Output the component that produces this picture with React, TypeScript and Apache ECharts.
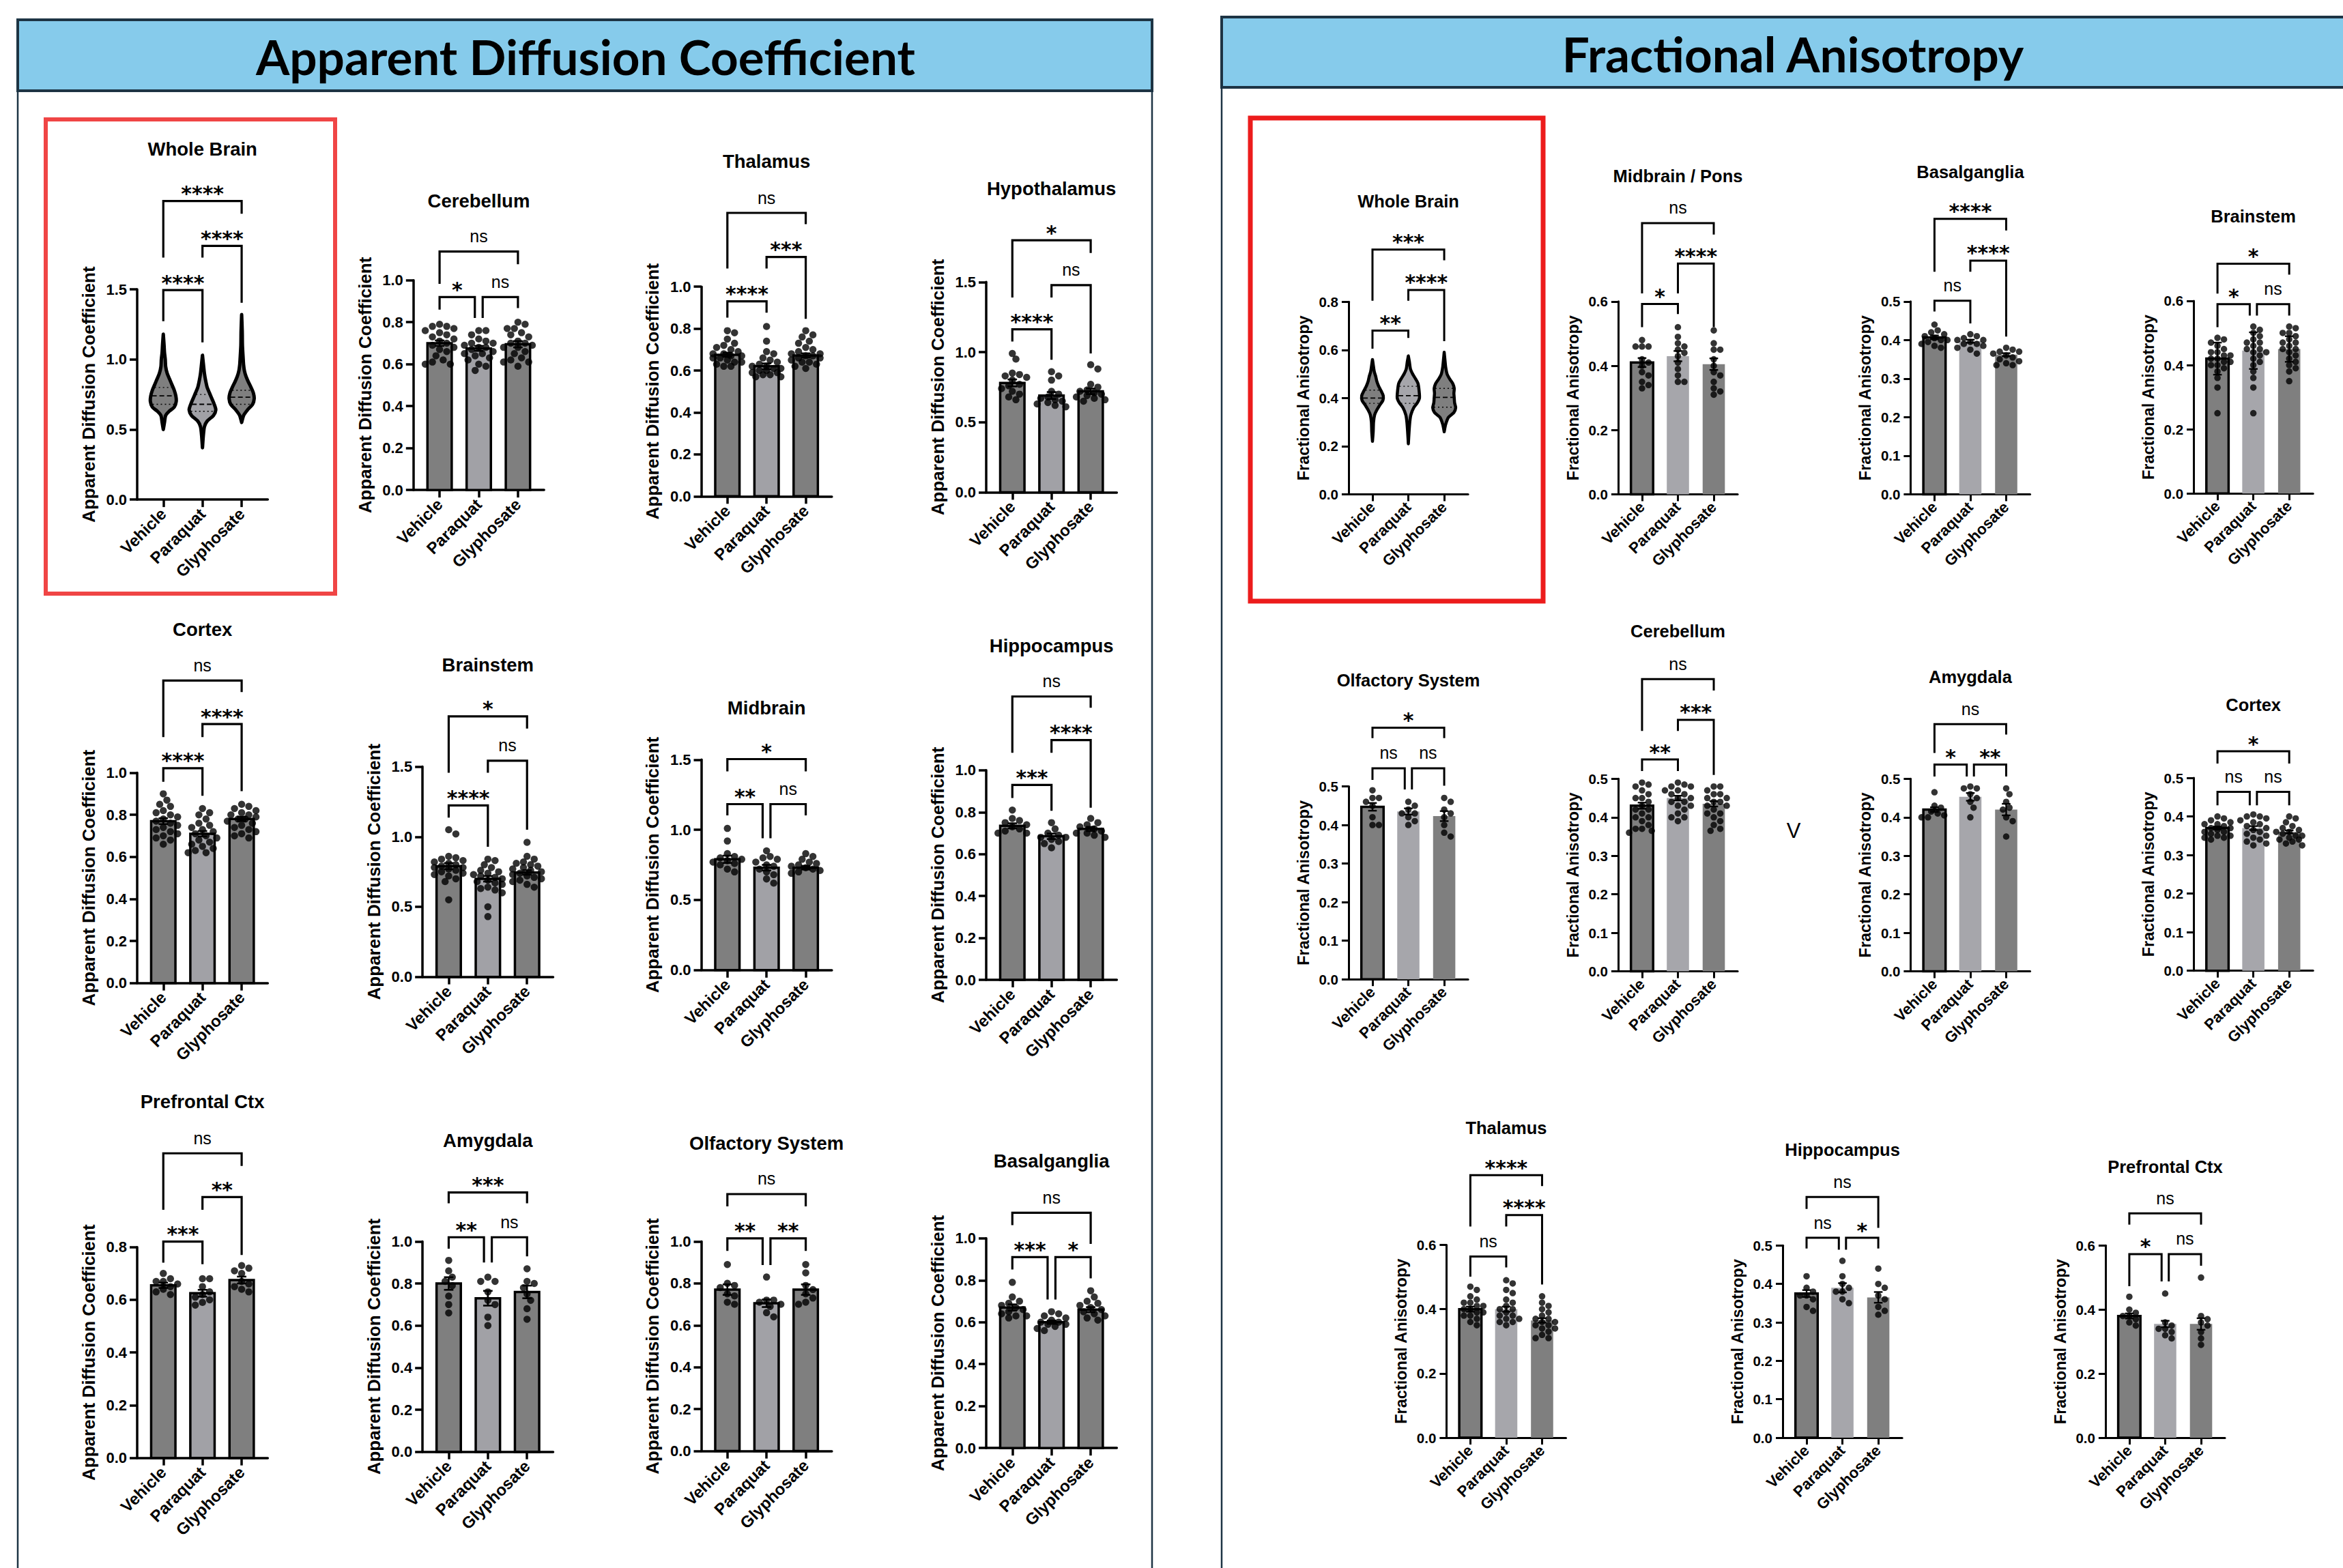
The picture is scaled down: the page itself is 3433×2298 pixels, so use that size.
import React, { useEffect, useRef } from "react";
import * as echarts from "echarts";

// ---------------- categories / labels ----------------
const GROUPS = ["Vehicle", "Paraquat", "Glyphosate"];
const ADC_HEADER = "Apparent Diffusion Coefficient";
const FA_HEADER = "Fractional Anisotropy";
const ADC_YNAME = "Apparent Diffusion Coefficient";
const FA_YNAME = "Fractional Anisotropy";

// ---------------- ADC data ----------------
// Whole brain violins: [value, half-width in category units]
const ADC_WB_VIOLIN_VEH = [[0.5, 0], [0.55, 0.03], [0.6, 0.06], [0.63, 0.15], [0.66, 0.28], [0.7, 0.33], [0.74, 0.32], [0.78, 0.28], [0.82, 0.22], [0.86, 0.16], [0.9, 0.1], [0.95, 0.06], [1.0, 0.05], [1.05, 0.03], [1.1, 0.02], [1.18, 0]];
const ADC_WB_VIOLIN_PQ = [[0.37, 0], [0.45, 0.02], [0.52, 0.05], [0.56, 0.12], [0.6, 0.28], [0.64, 0.34], [0.68, 0.3], [0.72, 0.24], [0.76, 0.18], [0.8, 0.12], [0.85, 0.08], [0.9, 0.05], [0.95, 0.03], [1.03, 0]];
const ADC_WB_VIOLIN_GLY = [[0.55, 0], [0.6, 0.05], [0.64, 0.15], [0.68, 0.28], [0.72, 0.32], [0.76, 0.3], [0.8, 0.24], [0.84, 0.17], [0.88, 0.11], [0.92, 0.07], [0.96, 0.05], [1.0, 0.04], [1.1, 0.02], [1.2, 0.015], [1.32, 0]];
const ADC_WB_QUART = [[0.68, 0.74, 0.8], [0.63, 0.68, 0.75], [0.68, 0.73, 0.78]];
const ADC_WB_BRK = [[0, 1, 1.495, 1.273, 1.122, "****"], [1, 2, 1.81, 1.727, 1.404, "****"], [0, 2, 2.13, 1.727, 2.04, "****"]];

const ADC_CB_MEAN = [0.7, 0.675, 0.695];
const ADC_CB_ERR = [0.013, 0.012, 0.015];
const ADC_CB_VEH = [0.79, 0.78, 0.78, 0.77, 0.76, 0.75, 0.74, 0.73, 0.72, 0.71, 0.7, 0.69, 0.68, 0.67, 0.66, 0.64, 0.62, 0.61, 0.6, 0.6];
const ADC_CB_PQ = [0.76, 0.76, 0.74, 0.72, 0.71, 0.7, 0.7, 0.69, 0.68, 0.68, 0.67, 0.66, 0.65, 0.65, 0.64, 0.63, 0.62, 0.6, 0.59, 0.57];
const ADC_CB_GLY = [0.8, 0.79, 0.77, 0.77, 0.75, 0.74, 0.73, 0.71, 0.7, 0.7, 0.69, 0.68, 0.68, 0.66, 0.65, 0.63, 0.62, 0.61, 0.61, 0.59];
const ADC_CB_BRK = [[0, 0.9, 0.92, 0.86, 0.82, "*"], [1.1, 2, 0.92, 0.82, 0.867, "ns"], [0, 2, 1.137, 0.983, 1.076, "ns"]];

const ADC_TH_MEAN = [0.675, 0.62, 0.672];
const ADC_TH_ERR = [0.01, 0.014, 0.01];
const ADC_TH_VEH = [0.79, 0.78, 0.75, 0.73, 0.72, 0.71, 0.7, 0.69, 0.68, 0.68, 0.67, 0.67, 0.66, 0.66, 0.65, 0.64, 0.64, 0.63, 0.62, 0.62];
const ADC_TH_PQ = [0.81, 0.74, 0.69, 0.68, 0.66, 0.65, 0.64, 0.63, 0.62, 0.62, 0.61, 0.61, 0.6, 0.6, 0.59, 0.59, 0.58, 0.58, 0.57, 0.57];
const ADC_TH_GLY = [0.79, 0.77, 0.76, 0.74, 0.73, 0.71, 0.7, 0.69, 0.68, 0.68, 0.67, 0.67, 0.66, 0.66, 0.65, 0.64, 0.64, 0.63, 0.62, 0.61];
const ADC_TH_BRK = [[0, 1, 0.93, 0.852, 0.876, "****"], [1, 2, 1.142, 1.087, 0.847, "***"], [0, 2, 1.352, 1.087, 1.298, "ns"]];

const ADC_HY_MEAN = [0.78, 0.69, 0.72];
const ADC_HY_ERR = [0.025, 0.025, 0.02];
const ADC_HY_VEH = [0.99, 0.95, 0.85, 0.84, 0.83, 0.82, 0.8, 0.77, 0.76, 0.74, 0.72, 0.7, 0.68, 0.66];
const ADC_HY_PQ = [0.86, 0.83, 0.8, 0.72, 0.7, 0.68, 0.67, 0.66, 0.65, 0.64, 0.63, 0.62, 0.61];
const ADC_HY_GLY = [0.91, 0.88, 0.77, 0.75, 0.73, 0.72, 0.71, 0.7, 0.69, 0.68, 0.67, 0.66, 0.65];
const ADC_HY_BRK = [[0, 1, 1.163, 1.076, 0.946, "****"], [1, 2, 1.478, 1.39, 0.99, "ns"], [0, 2, 1.798, 1.39, 1.707, "*"]];

const ADC_CX_MEAN = [0.77, 0.71, 0.78];
const ADC_CX_ERR = [0.014, 0.013, 0.01];
const ADC_CX_VEH = [0.9, 0.87, 0.85, 0.84, 0.82, 0.81, 0.8, 0.79, 0.78, 0.77, 0.76, 0.75, 0.74, 0.73, 0.72, 0.71, 0.7, 0.69, 0.68, 0.66];
const ADC_CX_PQ = [0.83, 0.81, 0.8, 0.78, 0.76, 0.75, 0.74, 0.73, 0.72, 0.71, 0.7, 0.69, 0.68, 0.67, 0.66, 0.65, 0.64, 0.63, 0.62, 0.62];
const ADC_CX_GLY = [0.85, 0.84, 0.83, 0.82, 0.81, 0.8, 0.8, 0.79, 0.78, 0.78, 0.77, 0.76, 0.75, 0.74, 0.73, 0.72, 0.71, 0.7, 0.69];
const ADC_CX_BRK = [[0, 1, 1.022, 0.957, 0.891, "****"], [1, 2, 1.232, 1.17, 0.913, "****"], [0, 2, 1.439, 1.17, 1.384, "ns"]];

const ADC_BS_MEAN = [0.79, 0.7, 0.745];
const ADC_BS_ERR = [0.022, 0.02, 0.016];
const ADC_BS_VEH = [1.05, 1.02, 0.86, 0.85, 0.84, 0.83, 0.82, 0.81, 0.8, 0.79, 0.78, 0.78, 0.77, 0.76, 0.75, 0.74, 0.73, 0.72, 0.7, 0.68, 0.55];
const ADC_BS_PQ = [0.84, 0.83, 0.8, 0.78, 0.76, 0.75, 0.74, 0.73, 0.72, 0.71, 0.7, 0.69, 0.68, 0.67, 0.66, 0.64, 0.63, 0.62, 0.6, 0.5, 0.43];
const ADC_BS_GLY = [0.96, 0.86, 0.84, 0.82, 0.81, 0.8, 0.79, 0.78, 0.77, 0.76, 0.75, 0.74, 0.73, 0.72, 0.71, 0.7, 0.69, 0.68, 0.66, 0.64];
const ADC_BS_BRK = [[0, 1, 1.224, 1.137, 0.928, "****"], [1, 2, 1.543, 1.457, 1.05, "ns"], [0, 2, 1.859, 1.457, 1.772, "*"]];

const ADC_MB_MEAN = [0.79, 0.73, 0.73];
const ADC_MB_ERR = [0.026, 0.02, 0.013];
const ADC_MB_VEH = [1.01, 0.92, 0.83, 0.81, 0.8, 0.79, 0.78, 0.77, 0.76, 0.75, 0.72, 0.7];
const ADC_MB_PQ = [0.85, 0.81, 0.8, 0.79, 0.77, 0.75, 0.74, 0.72, 0.7, 0.68, 0.65, 0.62];
const ADC_MB_GLY = [0.83, 0.81, 0.79, 0.77, 0.76, 0.75, 0.74, 0.73, 0.72, 0.71, 0.7, 0.69];
const ADC_MB_BRK = [[0, 0.9, 1.183, 1.103, 0.94, "**"], [1.1, 2, 1.183, 0.94, 1.103, "ns"], [0, 2, 1.504, 1.417, 1.417, "*"]];

const ADC_HC_MEAN = [0.735, 0.685, 0.72];
const ADC_HC_ERR = [0.012, 0.013, 0.01];
const ADC_HC_VEH = [0.81, 0.77, 0.76, 0.75, 0.74, 0.73, 0.72, 0.71, 0.7, 0.7];
const ADC_HC_PQ = [0.75, 0.72, 0.7, 0.69, 0.68, 0.68, 0.67, 0.66, 0.65, 0.63];
const ADC_HC_GLY = [0.77, 0.75, 0.74, 0.73, 0.72, 0.71, 0.7, 0.7, 0.69, 0.68];
const ADC_HC_BRK = [[0, 1, 0.93, 0.868, 0.807, "***"], [1, 2, 1.144, 1.083, 0.821, "****"], [0, 2, 1.352, 1.083, 1.298, "ns"]];

const ADC_PF_MEAN = [0.655, 0.625, 0.675];
const ADC_PF_ERR = [0.01, 0.013, 0.013];
const ADC_PF_VEH = [0.7, 0.68, 0.67, 0.67, 0.66, 0.65, 0.64, 0.63, 0.62];
const ADC_PF_PQ = [0.68, 0.68, 0.65, 0.63, 0.62, 0.61, 0.6, 0.59, 0.58];
const ADC_PF_GLY = [0.73, 0.72, 0.71, 0.7, 0.67, 0.66, 0.65, 0.64, 0.63];
const ADC_PF_BRK = [[0, 1, 0.821, 0.741, 0.735, "***"], [1, 2, 0.99, 0.942, 0.77, "**"], [0, 2, 1.156, 0.942, 1.108, "ns"]];

const ADC_AM_MEAN = [0.8, 0.73, 0.76];
const ADC_AM_ERR = [0.03, 0.035, 0.03];
const ADC_AM_VEH = [0.91, 0.86, 0.83, 0.81, 0.79, 0.74, 0.7, 0.66];
const ADC_AM_PQ = [0.83, 0.81, 0.81, 0.76, 0.72, 0.7, 0.64, 0.6];
const ADC_AM_GLY = [0.87, 0.81, 0.8, 0.78, 0.75, 0.72, 0.68, 0.63];
const ADC_AM_BRK = [[0, 0.9, 1.02, 0.966, 0.9, "**"], [1.1, 2, 1.02, 0.9, 0.929, "ns"], [0, 2, 1.233, 1.181, 1.181, "***"]];

const ADC_OS_MEAN = [0.77, 0.705, 0.77];
const ADC_OS_ERR = [0.025, 0.018, 0.025];
const ADC_OS_VEH = [0.89, 0.8, 0.79, 0.78, 0.75, 0.74, 0.71, 0.7];
const ADC_OS_PQ = [0.83, 0.72, 0.72, 0.71, 0.7, 0.69, 0.66, 0.64];
const ADC_OS_GLY = [0.89, 0.85, 0.79, 0.77, 0.75, 0.73, 0.71, 0.7];
const ADC_OS_BRK = [[0, 0.9, 1.015, 0.955, 0.887, "**"], [1.1, 2, 1.015, 0.887, 0.955, "**"], [0, 2, 1.226, 1.167, 1.167, "ns"]];

const ADC_BG_MEAN = [0.67, 0.6, 0.66];
const ADC_BG_ERR = [0.015, 0.008, 0.012];
const ADC_BG_VEH = [0.79, 0.72, 0.7, 0.69, 0.68, 0.67, 0.66, 0.65, 0.64, 0.63, 0.63, 0.62];
const ADC_BG_PQ = [0.65, 0.64, 0.63, 0.62, 0.61, 0.6, 0.6, 0.59, 0.59, 0.58, 0.57, 0.56];
const ADC_BG_GLY = [0.75, 0.72, 0.7, 0.69, 0.68, 0.67, 0.66, 0.65, 0.64, 0.63, 0.62, 0.61];
const ADC_BG_BRK = [[0, 0.9, 0.91, 0.851, 0.708, "***"], [1.1, 2, 0.91, 0.708, 0.809, "*"], [0, 2, 1.122, 1.063, 0.973, "ns"]];

// ---------------- FA data ----------------
const FA_WB_VIOLIN_VEH = [[0.22, 0], [0.26, 0.02], [0.3, 0.03], [0.33, 0.06], [0.35, 0.12], [0.37, 0.2], [0.39, 0.29], [0.41, 0.3], [0.43, 0.24], [0.45, 0.17], [0.47, 0.12], [0.49, 0.09], [0.51, 0.05], [0.54, 0.02], [0.56, 0]];
const FA_WB_VIOLIN_PQ = [[0.21, 0], [0.26, 0.02], [0.3, 0.04], [0.33, 0.07], [0.36, 0.15], [0.38, 0.25], [0.4, 0.31], [0.43, 0.3], [0.46, 0.27], [0.48, 0.2], [0.5, 0.12], [0.52, 0.06], [0.55, 0.03], [0.575, 0]];
const FA_WB_VIOLIN_GLY = [[0.26, 0], [0.29, 0.04], [0.32, 0.12], [0.34, 0.27], [0.36, 0.32], [0.38, 0.29], [0.4, 0.28], [0.42, 0.27], [0.44, 0.28], [0.46, 0.24], [0.48, 0.15], [0.5, 0.08], [0.53, 0.04], [0.56, 0.02], [0.59, 0]];
const FA_WB_QUART = [[0.378, 0.4, 0.433], [0.378, 0.41, 0.449], [0.362, 0.403, 0.44]];
const FA_WB_BRK = [[0, 1, 0.68, 0.605, 0.65, "**"], [1, 2, 0.849, 0.804, 0.636, "****"], [0, 2, 1.017, 0.804, 0.972, "***"]];

const FA_MP_MEAN = [0.41, 0.43, 0.405];
const FA_MP_ERR = [0.014, 0.016, 0.018];
const FA_MP_VEH = [0.48, 0.46, 0.46, 0.46, 0.42, 0.41, 0.4, 0.38, 0.37, 0.35, 0.34, 0.33];
const FA_MP_PQ = [0.52, 0.49, 0.47, 0.46, 0.45, 0.44, 0.43, 0.41, 0.39, 0.37, 0.35, 0.35];
const FA_MP_GLY = [0.51, 0.47, 0.45, 0.45, 0.42, 0.4, 0.38, 0.37, 0.35, 0.33, 0.32, 0.31];
const FA_MP_BRK = [[0, 1, 0.592, 0.52, 0.561, "*"], [1, 2, 0.718, 0.625, 0.52, "****"], [0, 2, 0.844, 0.625, 0.808, "ns"]];

const FA_BG_MEAN = [0.407, 0.397, 0.362];
const FA_BG_ERR = [0.005, 0.004, 0.004];
const FA_BG_VEH = [0.44, 0.425, 0.42, 0.415, 0.41, 0.405, 0.4, 0.4, 0.395, 0.39, 0.385, 0.38];
const FA_BG_PQ = [0.415, 0.41, 0.405, 0.4, 0.4, 0.395, 0.39, 0.39, 0.385, 0.38, 0.375, 0.365];
const FA_BG_GLY = [0.38, 0.375, 0.37, 0.37, 0.365, 0.36, 0.355, 0.35, 0.345, 0.34, 0.335, 0.335];
const FA_BG_BRK = [[0, 1, 0.502, 0.474, 0.443, "ns"], [1, 2, 0.606, 0.577, 0.409, "****"], [0, 2, 0.714, 0.577, 0.684, "****"]];

const FA_BS_MEAN = [0.42, 0.445, 0.45];
const FA_BS_ERR = [0.05, 0.057, 0.04];
const FA_BS_VEH = [0.485, 0.48, 0.47, 0.46, 0.45, 0.44, 0.44, 0.43, 0.43, 0.42, 0.42, 0.41, 0.41, 0.4, 0.4, 0.39, 0.38, 0.36, 0.33, 0.25];
const FA_BS_PQ = [0.52, 0.51, 0.5, 0.49, 0.48, 0.47, 0.47, 0.46, 0.45, 0.45, 0.44, 0.44, 0.43, 0.42, 0.41, 0.4, 0.38, 0.36, 0.33, 0.25];
const FA_BS_GLY = [0.52, 0.515, 0.5, 0.5, 0.49, 0.48, 0.47, 0.47, 0.46, 0.45, 0.45, 0.44, 0.43, 0.42, 0.41, 0.4, 0.39, 0.38, 0.35];
const FA_BS_BRK = [[0, 0.9, 0.59, 0.518, 0.554, "*"], [1.1, 2, 0.59, 0.554, 0.554, "ns"], [0, 2, 0.716, 0.623, 0.682, "*"]];

const FA_OS_MEAN = [0.447, 0.435, 0.423];
const FA_OS_ERR = [0.01, 0.008, 0.013];
const FA_OS_VEH = [0.49, 0.47, 0.47, 0.46, 0.45, 0.42, 0.4, 0.4];
const FA_OS_PQ = [0.46, 0.45, 0.44, 0.43, 0.43, 0.42, 0.41, 0.4];
const FA_OS_GLY = [0.47, 0.46, 0.44, 0.43, 0.42, 0.4, 0.38, 0.37];
const FA_OS_BRK = [[0, 0.9, 0.547, 0.517, 0.492, "ns"], [1.1, 2, 0.547, 0.492, 0.502, "ns"], [0, 2, 0.652, 0.625, 0.625, "*"]];

const FA_CB_MEAN = [0.43, 0.45, 0.435];
const FA_CB_ERR = [0.008, 0.006, 0.007];
const FA_CB_VEH = [0.49, 0.485, 0.48, 0.47, 0.46, 0.45, 0.45, 0.44, 0.43, 0.42, 0.42, 0.41, 0.4, 0.4, 0.39, 0.38, 0.37, 0.37, 0.365, 0.36];
const FA_CB_PQ = [0.49, 0.485, 0.48, 0.48, 0.47, 0.47, 0.46, 0.46, 0.45, 0.45, 0.44, 0.44, 0.43, 0.43, 0.42, 0.41, 0.4, 0.4, 0.39];
const FA_CB_GLY = [0.48, 0.48, 0.47, 0.46, 0.46, 0.45, 0.45, 0.44, 0.44, 0.43, 0.43, 0.42, 0.41, 0.41, 0.4, 0.39, 0.38, 0.37, 0.365];
const FA_CB_BRK = [[0, 1, 0.55, 0.52, 0.52, "**"], [1, 2, 0.653, 0.624, 0.51, "***"], [0, 2, 0.759, 0.624, 0.729, "ns"]];

const FA_AM_MEAN = [0.42, 0.453, 0.42];
const FA_AM_ERR = [0.006, 0.01, 0.015];
const FA_AM_VEH = [0.465, 0.43, 0.425, 0.415, 0.41, 0.405, 0.4, 0.4];
const FA_AM_PQ = [0.48, 0.475, 0.475, 0.46, 0.45, 0.44, 0.425, 0.4];
const FA_AM_GLY = [0.475, 0.46, 0.44, 0.425, 0.42, 0.4, 0.39, 0.35];
const FA_AM_BRK = [[0, 0.9, 0.537, 0.506, 0.506, "*"], [1.1, 2, 0.537, 0.506, 0.506, "**"], [0, 2, 0.642, 0.567, 0.615, "ns"]];

const FA_CX_MEAN = [0.37, 0.37, 0.36];
const FA_CX_ERR = [0.004, 0.005, 0.004];
const FA_CX_VEH = [0.4, 0.395, 0.39, 0.385, 0.38, 0.38, 0.375, 0.37, 0.37, 0.365, 0.36, 0.36, 0.355, 0.35, 0.35, 0.345, 0.345, 0.34];
const FA_CX_PQ = [0.405, 0.4, 0.4, 0.395, 0.39, 0.385, 0.38, 0.375, 0.37, 0.365, 0.36, 0.355, 0.35, 0.345, 0.34, 0.335, 0.33, 0.325];
const FA_CX_GLY = [0.4, 0.395, 0.385, 0.375, 0.37, 0.365, 0.36, 0.36, 0.355, 0.35, 0.35, 0.345, 0.34, 0.34, 0.335, 0.33, 0.325];
const FA_CX_BRK = [[0, 0.9, 0.464, 0.429, 0.429, "ns"], [1.1, 2, 0.464, 0.429, 0.429, "ns"], [0, 2, 0.569, 0.537, 0.537, "*"]];

const FA_TH_MEAN = [0.4, 0.4, 0.365];
const FA_TH_ERR = [0.008, 0.008, 0.007];
const FA_TH_VEH = [0.47, 0.46, 0.44, 0.43, 0.42, 0.42, 0.41, 0.41, 0.4, 0.4, 0.39, 0.39, 0.38, 0.38, 0.37, 0.36, 0.35];
const FA_TH_PQ = [0.49, 0.48, 0.46, 0.45, 0.43, 0.42, 0.41, 0.4, 0.4, 0.39, 0.38, 0.38, 0.37, 0.37, 0.36, 0.36, 0.35];
const FA_TH_GLY = [0.44, 0.42, 0.41, 0.4, 0.39, 0.38, 0.37, 0.37, 0.36, 0.36, 0.35, 0.35, 0.34, 0.34, 0.33, 0.32, 0.31, 0.31];
const FA_TH_BRK = [[0, 1, 0.564, 0.501, 0.53, "ns"], [1, 2, 0.693, 0.657, 0.477, "****"], [0, 2, 0.817, 0.657, 0.783, "****"]];

const FA_HC_MEAN = [0.375, 0.39, 0.365];
const FA_HC_ERR = [0.009, 0.012, 0.014];
const FA_HC_VEH = [0.42, 0.39, 0.38, 0.37, 0.37, 0.36, 0.34, 0.33];
const FA_HC_PQ = [0.46, 0.42, 0.4, 0.39, 0.38, 0.38, 0.36, 0.35];
const FA_HC_GLY = [0.44, 0.4, 0.39, 0.37, 0.36, 0.34, 0.33, 0.32];
const FA_HC_BRK = [[0, 0.9, 0.52, 0.492, 0.489, "ns"], [1.1, 2, 0.52, 0.489, 0.492, "*"], [0, 2, 0.626, 0.595, 0.546, "ns"]];

const FA_PF_MEAN = [0.38, 0.355, 0.355];
const FA_PF_ERR = [0.008, 0.01, 0.018];
const FA_PF_VEH = [0.44, 0.4, 0.39, 0.38, 0.38, 0.37, 0.36, 0.35];
const FA_PF_PQ = [0.45, 0.36, 0.35, 0.34, 0.34, 0.33, 0.32, 0.31];
const FA_PF_GLY = [0.5, 0.38, 0.37, 0.36, 0.35, 0.33, 0.31, 0.29];
const FA_PF_BRK = [[0, 0.9, 0.573, 0.473, 0.488, "*"], [1.1, 2, 0.573, 0.488, 0.537, "ns"], [0, 2, 0.7, 0.665, 0.665, "ns"]];

// ---------------- layout (shrunk-frame units, scaled by S) ----------------
const S = 3433 / 1568;
const PANELS: any[] = [
  { kind: "ADC", title: "Whole Brain", ax: 91.8, top: 193.7, bot: 334.4, ty: 100, max: 1.5, step: 0.5, violin: [ADC_WB_VIOLIN_VEH, ADC_WB_VIOLIN_PQ, ADC_WB_VIOLIN_GLY], quart: ADC_WB_QUART, brk: ADC_WB_BRK },
  { kind: "ADC", title: "Cerebellum", ax: 276.7, top: 187.6, bot: 328, ty: 134.7, max: 1, step: 0.2, mean: ADC_CB_MEAN, err: ADC_CB_ERR, pts: [ADC_CB_VEH, ADC_CB_PQ, ADC_CB_GLY], brk: ADC_CB_BRK },
  { kind: "ADC", title: "Thalamus", ax: 469.3, top: 191.9, bot: 332.2, ty: 108.2, max: 1, step: 0.2, mean: ADC_TH_MEAN, err: ADC_TH_ERR, pts: [ADC_TH_VEH, ADC_TH_PQ, ADC_TH_GLY], brk: ADC_TH_BRK },
  { kind: "ADC", title: "Hypothalamus", ax: 660, top: 188.8, bot: 329.5, ty: 126.5, max: 1.5, step: 0.5, mean: ADC_HY_MEAN, err: ADC_HY_ERR, pts: [ADC_HY_VEH, ADC_HY_PQ, ADC_HY_GLY], brk: ADC_HY_BRK },
  { kind: "ADC", title: "Cortex", ax: 91.8, top: 517.3, bot: 658, ty: 421.4, max: 1, step: 0.2, mean: ADC_CX_MEAN, err: ADC_CX_ERR, pts: [ADC_CX_VEH, ADC_CX_PQ, ADC_CX_GLY], brk: ADC_CX_BRK },
  { kind: "ADC", title: "Brainstem", ax: 282.8, top: 513.2, bot: 653.9, ty: 445.2, max: 1.5, step: 0.5, mean: ADC_BS_MEAN, err: ADC_BS_ERR, pts: [ADC_BS_VEH, ADC_BS_PQ, ADC_BS_GLY], brk: ADC_BS_BRK },
  { kind: "ADC", title: "Midbrain", ax: 469.3, top: 508.5, bot: 649.4, ty: 473.8, max: 1.5, step: 0.5, mean: ADC_MB_MEAN, err: ADC_MB_ERR, pts: [ADC_MB_VEH, ADC_MB_PQ, ADC_MB_GLY], brk: ADC_MB_BRK },
  { kind: "ADC", title: "Hippocampus", ax: 660, top: 515.6, bot: 655.9, ty: 432.2, max: 1, step: 0.2, mean: ADC_HC_MEAN, err: ADC_HC_ERR, pts: [ADC_HC_VEH, ADC_HC_PQ, ADC_HC_GLY], brk: ADC_HC_BRK },
  { kind: "ADC", title: "Prefrontal Ctx", ax: 91.8, top: 834.8, bot: 975.9, ty: 737.5, max: 0.8, step: 0.2, mean: ADC_PF_MEAN, err: ADC_PF_ERR, pts: [ADC_PF_VEH, ADC_PF_PQ, ADC_PF_GLY], brk: ADC_PF_BRK },
  { kind: "ADC", title: "Amygdala", ax: 282.8, top: 831, bot: 971.8, ty: 763.6, max: 1, step: 0.2, mean: ADC_AM_MEAN, err: ADC_AM_ERR, pts: [ADC_AM_VEH, ADC_AM_PQ, ADC_AM_GLY], brk: ADC_AM_BRK },
  { kind: "ADC", title: "Olfactory System", ax: 469.3, top: 831, bot: 971.3, ty: 765.3, max: 1, step: 0.2, mean: ADC_OS_MEAN, err: ADC_OS_ERR, pts: [ADC_OS_VEH, ADC_OS_PQ, ADC_OS_GLY], brk: ADC_OS_BRK },
  { kind: "ADC", title: "Basalganglia", ax: 660, top: 828.9, bot: 969.3, ty: 777.2, max: 1, step: 0.2, mean: ADC_BG_MEAN, err: ADC_BG_ERR, pts: [ADC_BG_VEH, ADC_BG_PQ, ADC_BG_GLY], brk: ADC_BG_BRK },
  { kind: "FA", title: "Whole Brain", ax: 902.5, top: 202, bot: 330.9, ty: 134.9, max: 0.8, step: 0.2, violin: [FA_WB_VIOLIN_VEH, FA_WB_VIOLIN_PQ, FA_WB_VIOLIN_GLY], quart: FA_WB_QUART, brk: FA_WB_BRK },
  { kind: "FA", title: "Midbrain / Pons", ax: 1082.9, top: 201.8, bot: 330.9, ty: 117.7, max: 0.6, step: 0.2, mean: FA_MP_MEAN, err: FA_MP_ERR, pts: [FA_MP_VEH, FA_MP_PQ, FA_MP_GLY], brk: FA_MP_BRK },
  { kind: "FA", title: "Basalganglia", ax: 1278.6, top: 201.8, bot: 330.9, ty: 115, max: 0.5, step: 0.1, mean: FA_BG_MEAN, err: FA_BG_ERR, pts: [FA_BG_VEH, FA_BG_PQ, FA_BG_GLY], brk: FA_BG_BRK },
  { kind: "FA", title: "Brainstem", ax: 1468, top: 201.4, bot: 330.3, ty: 144.8, max: 0.6, step: 0.2, mean: FA_BS_MEAN, err: FA_BS_ERR, pts: [FA_BS_VEH, FA_BS_PQ, FA_BS_GLY], brk: FA_BS_BRK },
  { kind: "FA", title: "Olfactory System", ax: 902.5, top: 526.4, bot: 655.5, ty: 455.5, max: 0.5, step: 0.1, mean: FA_OS_MEAN, err: FA_OS_ERR, pts: [FA_OS_VEH, FA_OS_PQ, FA_OS_GLY], brk: FA_OS_BRK },
  { kind: "FA", title: "Cerebellum", ax: 1082.9, top: 521.3, bot: 650.2, ty: 422.4, max: 0.5, step: 0.1, mean: FA_CB_MEAN, err: FA_CB_ERR, pts: [FA_CB_VEH, FA_CB_PQ, FA_CB_GLY], brk: FA_CB_BRK },
  { kind: "FA", title: "Amygdala", ax: 1278.6, top: 521.3, bot: 650.2, ty: 453, max: 0.5, step: 0.1, mean: FA_AM_MEAN, err: FA_AM_ERR, pts: [FA_AM_VEH, FA_AM_PQ, FA_AM_GLY], brk: FA_AM_BRK },
  { kind: "FA", title: "Cortex", ax: 1468, top: 520.7, bot: 649.8, ty: 471.9, max: 0.5, step: 0.1, mean: FA_CX_MEAN, err: FA_CX_ERR, pts: [FA_CX_VEH, FA_CX_PQ, FA_CX_GLY], brk: FA_CX_BRK },
  { kind: "FA", title: "Thalamus", ax: 968, top: 833.3, bot: 962.4, ty: 755, max: 0.6, step: 0.2, mean: FA_TH_MEAN, err: FA_TH_ERR, pts: [FA_TH_VEH, FA_TH_PQ, FA_TH_GLY], brk: FA_TH_BRK },
  { kind: "FA", title: "Hippocampus", ax: 1193, top: 833.7, bot: 962.4, ty: 769.8, max: 0.5, step: 0.1, mean: FA_HC_MEAN, err: FA_HC_ERR, pts: [FA_HC_VEH, FA_HC_PQ, FA_HC_GLY], brk: FA_HC_BRK },
  { kind: "FA", title: "Prefrontal Ctx", ax: 1409, top: 833.7, bot: 962.4, ty: 781, max: 0.6, step: 0.2, mean: FA_PF_MEAN, err: FA_PF_ERR, pts: [FA_PF_VEH, FA_PF_PQ, FA_PF_GLY], brk: FA_PF_BRK },
];

const FONT = "'Liberation Sans', Arial, sans-serif";
const STAR_FONT = "'DejaVu Sans', sans-serif";
const DARK = "#7f7f7f";
const STYLE: any = {
  ADC: { w: 87.4, axisW: 3.5, tickLen: 11, tickFont: 22, nameFont: 26, nameGap: 58, catFont: 24, catMargin: 17, titleFont: 27.5, border: 3.5, brkW: 3.2, dot: 10.5, light: "#a1a1a6", violinW: 5, errW: 2.6, allBorder: true },
  FA: { w: 80, axisW: 3, tickLen: 10, tickFont: 20.5, nameFont: 23.5, nameGap: 54, catFont: 22.5, catMargin: 15, titleFont: 25.5, border: 3.5, brkW: 3, dot: 9.5, light: "#a6a6ab", violinW: 4.5, errW: 2.4, allBorder: false },
};
const XMIN = -0.6667;
const XMAX = 2.6667;
const HW = 0.31;
const CAP = 0.12;

function swarm(vals: number[], pxU: number, pxV: number, d: number, maxU: number) {
  const placed: { x: number; y: number }[] = [];
  const out: number[] = [];
  for (const v of vals) {
    const y = v * pxV;
    let best = 0;
    let bestScore = -1;
    for (let k = 0; k < 40; k++) {
      const xo = Math.ceil(k / 2) * (k % 2 ? 1 : -1) * d * 0.5;
      if (Math.abs(xo) > maxU * pxU) continue;
      let minD = Infinity;
      for (const p of placed) minD = Math.min(minD, Math.hypot(p.x - xo, p.y - y));
      if (minD >= d * 0.9) {
        best = xo;
        break;
      }
      if (minD > bestScore) {
        bestScore = minD;
        best = xo;
      }
    }
    placed.push({ x: best, y });
    out.push(best / pxU);
  }
  return out;
}

function interpHW(prof: number[][], v: number) {
  for (let i = 0; i < prof.length - 1; i++) {
    const [a, ha] = prof[i];
    const [b, hb] = prof[i + 1];
    if (v >= a && v <= b) return ha + ((hb - ha) * (v - a)) / (b - a);
  }
  return 0;
}

function txt(text: string, x: number, y: number, font: string, va: string) {
  return { text, x, y, font, fill: "#000", align: "center", verticalAlign: va };
}

function buildOption() {
  const grid: any[] = [];
  const xAxis: any[] = [];
  const yAxis: any[] = [];
  const series: any[] = [];
  const graphic: any[] = [];

  PANELS.forEach((p, i) => {
    const st = STYLE[p.kind];
    const left = p.ax * S;
    const top = p.top * S;
    const width = st.w * S;
    const height = (p.bot - p.top) * S;
    grid.push({ left, top, width, height });
    const lineStyle = { color: "#000", width: st.axisW };
    xAxis.push({
      gridIndex: i,
      type: "value",
      min: XMIN,
      max: XMAX,
      axisLine: { show: true, lineStyle },
      axisTick: { show: true, customValues: [0, 1, 2], length: st.tickLen, lineStyle },
      axisLabel: {
        customValues: [0, 1, 2],
        formatter: (v: number) => GROUPS[Math.round(v)],
        rotate: 45,
        margin: st.catMargin,
        fontSize: st.catFont,
        fontWeight: "bold",
        fontFamily: FONT,
        color: "#000",
      },
      splitLine: { show: false },
    });
    yAxis.push({
      gridIndex: i,
      type: "value",
      min: 0,
      max: p.max,
      interval: p.step,
      name: p.kind === "ADC" ? ADC_YNAME : FA_YNAME,
      nameLocation: "middle",
      nameGap: st.nameGap,
      nameTextStyle: { fontSize: st.nameFont, fontWeight: "bold", fontFamily: FONT, color: "#000" },
      axisLine: { show: true, onZero: false, lineStyle },
      axisTick: { show: true, length: st.tickLen, lineStyle },
      axisLabel: {
        formatter: (v: number) => v.toFixed(1),
        fontSize: st.tickFont,
        fontWeight: "bold",
        fontFamily: FONT,
        color: "#000",
        margin: 15,
      },
      splitLine: { show: false },
    });

    const colors = [DARK, st.light, DARK];

    if (p.violin) {
      series.push({
        type: "custom",
        xAxisIndex: i,
        yAxisIndex: i,
        z: 3,
        silent: true,
        data: p.quart.map((q: number[], k: number) => [k, q[1]]),
        renderItem: (params: any, api: any) => {
          const k = params.dataIndex;
          const prof = p.violin[k];
          const right = prof.map(([v, h]: number[]) => api.coord([k + h, v]));
          const leftSide = prof
            .slice()
            .reverse()
            .map(([v, h]: number[]) => api.coord([k - h, v]));
          const children: any[] = [
            {
              type: "polygon",
              shape: { points: right.concat(leftSide), smooth: 0.25 },
              style: { fill: colors[k], stroke: "#000", lineWidth: st.violinW, lineJoin: "round" },
            },
          ];
          p.quart[k].forEach((q: number, qi: number) => {
            const h = interpHW(prof, q) - 0.03;
            const a = api.coord([k - h, q]);
            const b = api.coord([k + h, q]);
            children.push({
              type: "line",
              shape: { x1: a[0], y1: a[1], x2: b[0], y2: b[1] },
              style: { stroke: "#000", lineWidth: qi === 1 ? 1.8 : 1.4, lineDash: qi === 1 ? [7, 4] : [2, 4] },
            });
          });
          return { type: "group", children };
        },
      });
    } else {
      // bars
      series.push({
        type: "custom",
        xAxisIndex: i,
        yAxisIndex: i,
        z: 2,
        silent: true,
        data: p.mean.map((m: number, k: number) => [k, m]),
        renderItem: (params: any, api: any) => {
          const k = params.dataIndex;
          const m = p.mean[k];
          const a = api.coord([k - HW, m]);
          const b = api.coord([k + HW, 0]);
          const bordered = st.allBorder || k === 0;
          return {
            type: "rect",
            shape: { x: a[0], y: a[1], width: b[0] - a[0], height: b[1] - a[1] },
            style: { fill: colors[k], stroke: bordered ? "#000" : null, lineWidth: bordered ? st.border : 0 },
          };
        },
      });
      // points
      const pxU = width / (XMAX - XMIN);
      const pxV = height / p.max;
      const pts: number[][] = [];
      p.pts.forEach((vals: number[], k: number) => {
        const offs = swarm(vals, pxU, pxV, st.dot, 0.38);
        vals.forEach((v, j) => pts.push([k + offs[j], v]));
      });
      series.push({
        type: "scatter",
        xAxisIndex: i,
        yAxisIndex: i,
        z: 3,
        silent: true,
        symbol: "circle",
        symbolSize: st.dot,
        itemStyle: { color: "#000" },
        data: pts,
      });
      // error bars
      series.push({
        type: "custom",
        xAxisIndex: i,
        yAxisIndex: i,
        z: 4,
        silent: true,
        data: p.mean.map((m: number, k: number) => [k, m]),
        renderItem: (params: any, api: any) => {
          const k = params.dataIndex;
          const m = p.mean[k];
          const e = p.err[k];
          const lo = api.coord([k, m - e]);
          const hi = api.coord([k, m + e]);
          const c1 = api.coord([k - CAP, m + e]);
          const c2 = api.coord([k + CAP, m + e]);
          const c3 = api.coord([k - CAP, m - e]);
          const c4 = api.coord([k + CAP, m - e]);
          const ls = { stroke: "#000", lineWidth: st.errW };
          return {
            type: "group",
            children: [
              { type: "line", shape: { x1: lo[0], y1: lo[1], x2: hi[0], y2: hi[1] }, style: ls },
              { type: "line", shape: { x1: c1[0], y1: c1[1], x2: c2[0], y2: c2[1] }, style: ls },
              { type: "line", shape: { x1: c3[0], y1: c3[1], x2: c4[0], y2: c4[1] }, style: ls },
            ],
          };
        },
      });
    }

    // brackets
    series.push({
      type: "custom",
      xAxisIndex: i,
      yAxisIndex: i,
      z: 5,
      silent: true,
      clip: false,
      data: p.brk.map((b: any[]) => [b[0], b[2]]),
      renderItem: (params: any, api: any) => {
        const b = p.brk[params.dataIndex];
        const pL = api.coord([b[0], b[3]]);
        const pH1 = api.coord([b[0], b[2]]);
        const pH2 = api.coord([b[1], b[2]]);
        const pR = api.coord([b[1], b[4]]);
        const label = b[5] as string;
        const star = label.charAt(0) === "*";
        const cx = (pH1[0] + pH2[0]) / 2;
        const ty = star ? pH1[1] + 4 : pH1[1] - 10;
        const font = star ? `bold 30px ${STAR_FONT}` : `25px ${FONT}`;
        return {
          type: "group",
          children: [
            {
              type: "polyline",
              shape: { points: [pL, pH1, pH2, pR] },
              style: { stroke: "#000", lineWidth: st.brkW, fill: null },
            },
            { type: "text", style: txt(label, cx, ty, font, "bottom") },
          ],
        };
      },
    });

    // panel title
    graphic.push({
      type: "text",
      silent: true,
      style: txt(p.title, (p.ax + st.w / 2) * S, p.ty * S, `bold ${st.titleFont}px ${FONT}`, "middle"),
    });
  });

  // headers & frames
  const frame = "#1d3444";
  const HFONT = "bold 71px Lato, 'Open Sans', sans-serif";
  graphic.push(
    { type: "rect", silent: true, z: -1, shape: { x: 26, y: 29, width: 1662, height: 104 }, style: { fill: "#86cbeb", stroke: frame, lineWidth: 4 } },
    { type: "rect", silent: true, z: -1, shape: { x: 1790, y: 25, width: 1660, height: 103 }, style: { fill: "#86cbeb", stroke: frame, lineWidth: 4 } },
    { type: "line", silent: true, shape: { x1: 26, y1: 133, x2: 26, y2: 2298 }, style: { stroke: frame, lineWidth: 2.5 } },
    { type: "line", silent: true, shape: { x1: 1688, y1: 133, x2: 1688, y2: 2298 }, style: { stroke: frame, lineWidth: 2.5 } },
    { type: "line", silent: true, shape: { x1: 1790, y1: 128, x2: 1790, y2: 2298 }, style: { stroke: frame, lineWidth: 2.5 } },
    { type: "rect", silent: true, shape: { x: 67, y: 175, width: 424, height: 695 }, style: { fill: null, stroke: "#f04545", lineWidth: 6 } },
    { type: "rect", silent: true, shape: { x: 1832, y: 173, width: 429, height: 708 }, style: { fill: null, stroke: "#ec1c1c", lineWidth: 7 } },
    { type: "text", silent: true, style: txt(ADC_HEADER, 858, 82, HFONT, "middle") },
    { type: "text", silent: true, style: txt(FA_HEADER, 2627, 78, HFONT, "middle") },
    { type: "text", silent: true, style: txt("V", 2628, 1217, `31px ${FONT}`, "middle") }
  );

  return { animation: false, backgroundColor: "#ffffff", grid, xAxis, yAxis, series, graphic };
}

export default function App() {
  const ref = useRef<HTMLDivElement>(null);
  useEffect(() => {
    if (!ref.current) return;
    const chart = echarts.init(ref.current, undefined, { renderer: "svg" });
    chart.setOption(buildOption() as any);
    return () => chart.dispose();
  }, []);
  return <div ref={ref} style={{ position: "fixed", left: 0, top: 0, width: 3433, height: 2298, background: "#fff" }} />;
}
